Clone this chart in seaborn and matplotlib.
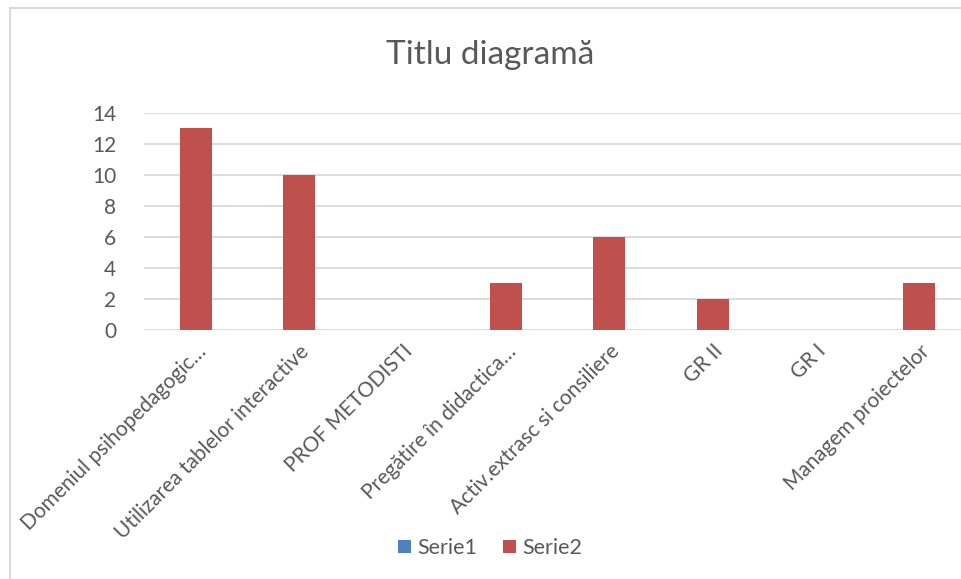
import matplotlib
matplotlib.use("Agg")
import matplotlib.pyplot as plt
import pandas as pd
import seaborn as sns
from matplotlib.patches import Rectangle

categories = [
    "Domeniul psihopedagogic…",
    "Utilizarea tablelor interactive",
    "PROF METODISTI",
    "Pregătire în didactica…",
    "Activ.extrasc si consiliere",
    "GR II",
    "GR I",
    "Managem proiectelor",
]
serie1 = [0, 0, 0, 0, 0, 0, 0, 0]
serie2 = [13, 10, 0, 3, 6, 2, 0, 3]
series_names = ["Serie1", "Serie2"]
y_ticks = [0, 2, 4, 6, 8, 10, 12, 14]

df = pd.DataFrame({
    "categorie": categories * 2,
    "valoare": serie1 + serie2,
    "serie": [series_names[0]] * len(categories) + [series_names[1]] * len(categories),
})

sns.set_theme(style="white")
plt.rcParams["font.family"] = ["Lato", "DejaVu Sans"]

text_col = "#595959"
grid_col = "#D9D9D9"

fig = plt.figure(figsize=(9.61, 5.79), dpi=100)
ax = fig.add_axes([144 / 961, 1 - 330 / 579, 827 / 961, (330 - 112.7) / 579])

sns.barplot(
    data=df, x="categorie", y="valoare", hue="serie",
    palette={"Serie1": "#4F81BD", "Serie2": "#C0504D"},
    dodge=False, width=0.31, saturation=1, linewidth=0, ax=ax,
)
handles, labels = ax.get_legend_handles_labels()
ax.get_legend().remove()

ax.set_ylim(0, 14)
ax.set_xlim(-0.5, len(categories) - 0.5)
ax.set_yticks(y_ticks)
ax.yaxis.grid(True, color=grid_col, linewidth=1.3)
ax.set_axisbelow(True)
for s in ax.spines.values():
    s.set_visible(False)
ax.set_xlabel("")
ax.set_ylabel("")
ax.tick_params(axis="y", length=0, pad=20, labelsize=15, labelcolor=text_col)
ax.tick_params(axis="x", length=0, pad=8, labelsize=15, labelcolor=text_col)
for lbl in ax.get_xticklabels():
    lbl.set_rotation(45)
    lbl.set_ha("right")
    lbl.set_va("top")
    lbl.set_rotation_mode("anchor")

fig.text(490 / 961, 1 - 55 / 579, "Titlu diagramă", ha="center", va="center",
         fontsize=24, color=text_col)

fig.legend(handles, labels, loc="center", bbox_to_anchor=(490 / 961, 1 - 548 / 579),
           ncol=2, frameon=False, fontsize=15.5, labelcolor=text_col,
           handlelength=0.6, handleheight=0.6, handletextpad=0.3, columnspacing=1.2)

fig.patches.append(Rectangle((10 / 961, -0.1), 1.2, 1.1 - 8 / 579, transform=fig.transFigure,
                             fill=False, edgecolor=grid_col, linewidth=1.5))

fig.savefig("out.png", dpi=100)
